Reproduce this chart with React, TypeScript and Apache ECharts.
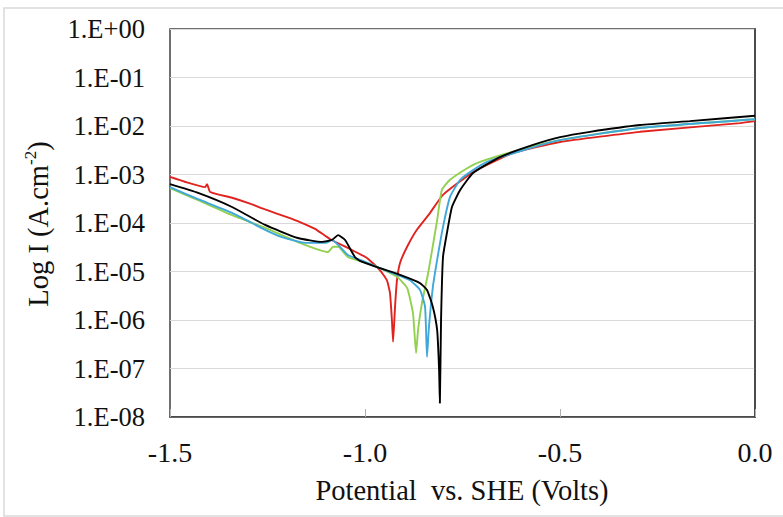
import React, { useEffect, useRef } from "react";
import * as echarts from "echarts";

// Potential (V vs SHE) and log10 of current density (A/cm²)
const redV = [-1.5, -1.462, -1.41, -1.405, -1.397, -1.341, -1.295, -1.256, -1.2, -1.167, -1.128, -1.09, -1.038, -0.995, -0.962, -0.944, -0.936, -0.931, -0.928, -0.923, -0.918, -0.91, -0.892, -0.867, -0.833, -0.8, -0.723, -0.621, -0.5, -0.295, -0.038, 0];
const redLogI = [-3.05, -3.15, -3.26, -3.2, -3.36, -3.48, -3.6, -3.72, -3.88, -3.98, -4.12, -4.33, -4.54, -4.72, -4.97, -5.18, -5.44, -6.0, -6.45, -5.73, -5.18, -4.82, -4.49, -4.14, -3.79, -3.42, -2.95, -2.56, -2.33, -2.12, -1.94, -1.9];

const greenV = [-1.5, -1.428, -1.341, -1.256, -1.213, -1.154, -1.095, -1.082, -1.069, -1.044, -1.0, -0.974, -0.918, -0.892, -0.877, -0.869, -0.864, -0.854, -0.838, -0.815, -0.803, -0.782, -0.738, -0.705, -0.603, -0.5, -0.295, 0];
const greenLogI = [-3.28, -3.53, -3.84, -4.1, -4.25, -4.45, -4.6, -4.49, -4.49, -4.7, -4.82, -4.89, -5.11, -5.34, -5.86, -6.68, -6.21, -5.65, -5.03, -3.94, -3.32, -3.11, -2.87, -2.74, -2.49, -2.29, -2.04, -1.86];

const blueV = [-1.5, -1.428, -1.341, -1.256, -1.213, -1.154, -1.1, -1.085, -1.069, -1.044, -1.0, -0.974, -0.962, -0.885, -0.859, -0.846, -0.841, -0.836, -0.826, -0.815, -0.8, -0.782, -0.756, -0.723, -0.687, -0.603, -0.5, -0.295, 0];
const blueLogI = [-3.26, -3.51, -3.79, -4.14, -4.29, -4.41, -4.41, -4.35, -4.45, -4.66, -4.8, -4.89, -4.93, -5.18, -5.38, -5.73, -6.76, -6.14, -5.32, -4.76, -4.08, -3.46, -3.11, -2.91, -2.74, -2.52, -2.29, -2.04, -1.86];

const blackV = [-1.5, -1.428, -1.341, -1.256, -1.172, -1.11, -1.085, -1.069, -1.051, -1.026, -1.013, -0.962, -0.91, -0.859, -0.841, -0.826, -0.815, -0.81, -0.808, -0.805, -0.8, -0.79, -0.777, -0.756, -0.723, -0.654, -0.569, -0.5, -0.423, -0.295, -0.167, 0];
const blackLogI = [-3.2, -3.38, -3.67, -4.04, -4.31, -4.39, -4.35, -4.25, -4.35, -4.7, -4.78, -4.93, -5.07, -5.24, -5.38, -5.73, -6.21, -7.03, -7.71, -6.0, -4.7, -4.21, -3.67, -3.32, -2.97, -2.64, -2.39, -2.23, -2.12, -1.98, -1.9, -1.79];

const xTicks = { min: -1.5, max: 0, interval: 0.5 };
const yExp = { min: -8, max: 0 };
const xTitle = "Potential  vs. SHE (Volts)";

const toPairs = (v: number[], l: number[]) => v.map((x, i) => [x, Math.pow(10, l[i])]);

const FONT = "Liberation Serif";

export default function App() {
  const ref = useRef<HTMLDivElement>(null);
  useEffect(() => {
    if (!ref.current) return;
    const chart = echarts.init(ref.current, undefined, { renderer: "svg" });
    const line = (name: string, color: string, v: number[], l: number[]) => ({
      name,
      type: "line",
      data: toPairs(v, l),
      showSymbol: false,
      symbol: "none",
      lineStyle: { color, width: 1.9 },
      itemStyle: { color },
      smooth: 0.15,
    });
    chart.setOption({
      animation: false,
      backgroundColor: "#ffffff",
      textStyle: { fontFamily: FONT },
      graphic: [
        {
          type: "rect",
          shape: { x: 4, y: 8, width: 800, height: 508 },
          style: { fill: "none", stroke: "#d9d9d9", lineWidth: 1.5 },
          silent: true,
          z: -10,
        },
        {
          type: "text",
          x: 462,
          y: 490,
          style: {
            text: "{a|" + xTitle + "}",
            align: "center",
            verticalAlign: "middle",
            rich: {
              a: { fontFamily: FONT, fontSize: 28.5, fill: "#111" },
            },
          },
        },
        {
          type: "text",
          x: 38,
          y: 224,
          rotation: Math.PI / 2,
          style: {
            text: "{a|Log I (A.cm}{s|-2}{a|)}",
            align: "center",
            verticalAlign: "middle",
            rich: {
              a: { fontFamily: FONT, fontSize: 28.5, fill: "#111", lineHeight: 32 },
              s: { fontFamily: FONT, fontSize: 17, fill: "#111", verticalAlign: "top", lineHeight: 32, padding: [0, 0, 11, 0] },
            },
          },
        },
      ],
      grid: {
        left: 170,
        top: 29,
        width: 585,
        height: 388,
        show: true,
        borderColor: "#404040",
        borderWidth: 1.5,
      },
      xAxis: {
        type: "value",
        min: xTicks.min,
        max: xTicks.max,
        interval: xTicks.interval,
        axisLine: { show: true, lineStyle: { color: "#404040", width: 1.5 } },
        axisTick: { show: true, inside: true, length: 8, lineStyle: { color: "#b0b0b0" } },
        axisLabel: {
          fontFamily: FONT,
          fontSize: 28,
          color: "#111",
          margin: 21,
          formatter: (v: number) => v.toFixed(1),
        },
        splitLine: { show: false },
      },
      yAxis: {
        type: "log",
        logBase: 10,
        min: Math.pow(10, yExp.min),
        max: Math.pow(10, yExp.max),
        interval: 1,
        axisLine: { show: true, lineStyle: { color: "#404040", width: 1.5 } },
        axisTick: { show: false },
        axisLabel: {
          fontFamily: FONT,
          fontSize: 26.5,
          color: "#111",
          margin: 25,
          formatter: (v: number) => {
            const e = Math.round(Math.log10(v));
            const s = e >= 0 ? "+" : "-";
            const a = Math.abs(e);
            return "1.E" + s + (a < 10 ? "0" + a : String(a));
          },
        },
        splitLine: { show: true, lineStyle: { color: "#d9d9d9", width: 1.2 } },
      },
      series: [
        line("Red", "#e0231f", redV, redLogI),
        line("Green", "#92d050", greenV, greenLogI),
        line("Blue", "#3fa8d8", blueV, blueLogI),
        line("Black", "#000000", blackV, blackLogI),
      ],
    });
    return () => chart.dispose();
  }, []);
  return (
    <div
      ref={ref}
      style={{ position: "fixed", left: 0, top: 0, width: 783, height: 517, background: "#fff" }}
    />
  );
}
